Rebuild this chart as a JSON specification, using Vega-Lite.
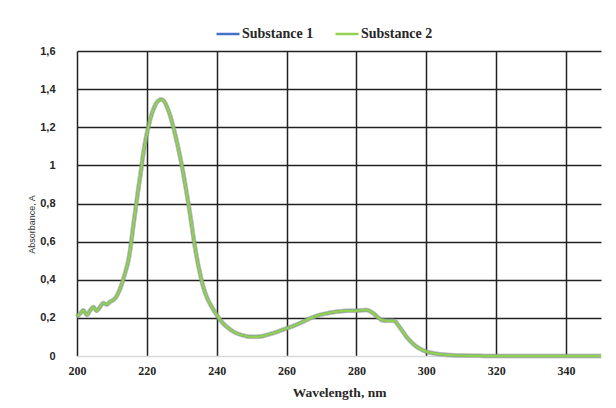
{
  "$schema": "https://vega.github.io/schema/vega-lite/v6.json",
  "width": 524,
  "height": 305,
  "autosize": {"type": "none"},
  "padding": {"left": 77, "top": 51, "right": 15, "bottom": 52},
  "background": "white",
  "config": {"view": {"stroke": null}},
  "data": {"values": [
    {"wl": 200, "Substance 1": 0.205, "Substance 2": 0.205}, {"wl": 201, "Substance 1": 0.225, "Substance 2": 0.225},
    {"wl": 201.8, "Substance 1": 0.24, "Substance 2": 0.24}, {"wl": 202.8, "Substance 1": 0.215, "Substance 2": 0.215},
    {"wl": 203.8, "Substance 1": 0.24, "Substance 2": 0.24}, {"wl": 204.7, "Substance 1": 0.257, "Substance 2": 0.257},
    {"wl": 205.6, "Substance 1": 0.236, "Substance 2": 0.236}, {"wl": 206.5, "Substance 1": 0.255, "Substance 2": 0.255},
    {"wl": 207.5, "Substance 1": 0.278, "Substance 2": 0.278}, {"wl": 208.5, "Substance 1": 0.27, "Substance 2": 0.27},
    {"wl": 209.5, "Substance 1": 0.285, "Substance 2": 0.285}, {"wl": 210.4, "Substance 1": 0.294, "Substance 2": 0.294},
    {"wl": 211.2, "Substance 1": 0.31, "Substance 2": 0.31}, {"wl": 211.8, "Substance 1": 0.33, "Substance 2": 0.33},
    {"wl": 212.5, "Substance 1": 0.36, "Substance 2": 0.36}, {"wl": 213.2, "Substance 1": 0.40, "Substance 2": 0.40},
    {"wl": 214, "Substance 1": 0.45, "Substance 2": 0.45}, {"wl": 214.7, "Substance 1": 0.50, "Substance 2": 0.50},
    {"wl": 215.4, "Substance 1": 0.58, "Substance 2": 0.58}, {"wl": 216.1, "Substance 1": 0.68, "Substance 2": 0.68},
    {"wl": 216.8, "Substance 1": 0.775, "Substance 2": 0.775}, {"wl": 217.5, "Substance 1": 0.87, "Substance 2": 0.87},
    {"wl": 218.3, "Substance 1": 0.97, "Substance 2": 0.97}, {"wl": 219.0, "Substance 1": 1.065, "Substance 2": 1.065},
    {"wl": 219.7, "Substance 1": 1.14, "Substance 2": 1.14}, {"wl": 220.4, "Substance 1": 1.20, "Substance 2": 1.20},
    {"wl": 221.1, "Substance 1": 1.25, "Substance 2": 1.25}, {"wl": 221.8, "Substance 1": 1.29, "Substance 2": 1.29},
    {"wl": 222.5, "Substance 1": 1.32, "Substance 2": 1.32}, {"wl": 223.3, "Substance 1": 1.34, "Substance 2": 1.34},
    {"wl": 224.2, "Substance 1": 1.345, "Substance 2": 1.345}, {"wl": 225.0, "Substance 1": 1.335, "Substance 2": 1.335},
    {"wl": 225.7, "Substance 1": 1.31, "Substance 2": 1.31}, {"wl": 226.6, "Substance 1": 1.265, "Substance 2": 1.265},
    {"wl": 227.6, "Substance 1": 1.20, "Substance 2": 1.20}, {"wl": 228.5, "Substance 1": 1.13, "Substance 2": 1.13},
    {"wl": 229.5, "Substance 1": 1.046, "Substance 2": 1.046}, {"wl": 230.5, "Substance 1": 0.95, "Substance 2": 0.95},
    {"wl": 231.4, "Substance 1": 0.854, "Substance 2": 0.854}, {"wl": 232.4, "Substance 1": 0.74, "Substance 2": 0.74},
    {"wl": 233.3, "Substance 1": 0.626, "Substance 2": 0.626}, {"wl": 234.2, "Substance 1": 0.525, "Substance 2": 0.525},
    {"wl": 235.2, "Substance 1": 0.434, "Substance 2": 0.434}, {"wl": 236.1, "Substance 1": 0.365, "Substance 2": 0.365},
    {"wl": 237.1, "Substance 1": 0.311, "Substance 2": 0.311}, {"wl": 238.5, "Substance 1": 0.26, "Substance 2": 0.26},
    {"wl": 240.0, "Substance 1": 0.215, "Substance 2": 0.215}, {"wl": 241.4, "Substance 1": 0.18, "Substance 2": 0.18},
    {"wl": 242.8, "Substance 1": 0.154, "Substance 2": 0.154}, {"wl": 244.2, "Substance 1": 0.135, "Substance 2": 0.135},
    {"wl": 245.7, "Substance 1": 0.119, "Substance 2": 0.119}, {"wl": 247.5, "Substance 1": 0.108, "Substance 2": 0.108},
    {"wl": 249.5, "Substance 1": 0.101, "Substance 2": 0.101}, {"wl": 251.5, "Substance 1": 0.101, "Substance 2": 0.101},
    {"wl": 253.3, "Substance 1": 0.105, "Substance 2": 0.105}, {"wl": 255.2, "Substance 1": 0.115, "Substance 2": 0.115},
    {"wl": 257.5, "Substance 1": 0.128, "Substance 2": 0.128}, {"wl": 260, "Substance 1": 0.145, "Substance 2": 0.145},
    {"wl": 262.5, "Substance 1": 0.162, "Substance 2": 0.162}, {"wl": 264.7, "Substance 1": 0.18, "Substance 2": 0.18},
    {"wl": 266.5, "Substance 1": 0.196, "Substance 2": 0.196}, {"wl": 268.6, "Substance 1": 0.21, "Substance 2": 0.21},
    {"wl": 270.5, "Substance 1": 0.22, "Substance 2": 0.22}, {"wl": 272.4, "Substance 1": 0.227, "Substance 2": 0.227},
    {"wl": 274.3, "Substance 1": 0.232, "Substance 2": 0.232}, {"wl": 276.2, "Substance 1": 0.236, "Substance 2": 0.236},
    {"wl": 278, "Substance 1": 0.237, "Substance 2": 0.237}, {"wl": 280, "Substance 1": 0.238, "Substance 2": 0.238},
    {"wl": 281.5, "Substance 1": 0.24, "Substance 2": 0.24}, {"wl": 282.9, "Substance 1": 0.241, "Substance 2": 0.241},
    {"wl": 283.9, "Substance 1": 0.235, "Substance 2": 0.235}, {"wl": 284.8, "Substance 1": 0.224, "Substance 2": 0.224},
    {"wl": 286, "Substance 1": 0.205, "Substance 2": 0.205}, {"wl": 287.2, "Substance 1": 0.189, "Substance 2": 0.189},
    {"wl": 288.8, "Substance 1": 0.185, "Substance 2": 0.185}, {"wl": 290.5, "Substance 1": 0.185, "Substance 2": 0.185},
    {"wl": 291.3, "Substance 1": 0.178, "Substance 2": 0.178}, {"wl": 291.9, "Substance 1": 0.163, "Substance 2": 0.163},
    {"wl": 293, "Substance 1": 0.135, "Substance 2": 0.135}, {"wl": 294.3, "Substance 1": 0.101, "Substance 2": 0.101},
    {"wl": 295.7, "Substance 1": 0.073, "Substance 2": 0.073}, {"wl": 297.2, "Substance 1": 0.049, "Substance 2": 0.049},
    {"wl": 298.6, "Substance 1": 0.034, "Substance 2": 0.034}, {"wl": 300, "Substance 1": 0.023, "Substance 2": 0.023},
    {"wl": 302, "Substance 1": 0.014, "Substance 2": 0.014}, {"wl": 303.9, "Substance 1": 0.009, "Substance 2": 0.009},
    {"wl": 306.7, "Substance 1": 0.005, "Substance 2": 0.005}, {"wl": 310, "Substance 1": 0.002, "Substance 2": 0.002},
    {"wl": 315, "Substance 1": 0.001, "Substance 2": 0.001}, {"wl": 320, "Substance 1": 0, "Substance 2": 0},
    {"wl": 330, "Substance 1": 0, "Substance 2": 0}, {"wl": 340, "Substance 1": 0, "Substance 2": 0},
    {"wl": 350, "Substance 1": 0, "Substance 2": 0}
  ]},
  "transform": [
    {"fold": ["Substance 1", "Substance 2"], "as": ["series", "value"]}
  ],
  "encoding": {
    "x": {
      "field": "wl", "type": "quantitative",
      "scale": {"domain": [200, 350], "nice": false, "zero": false},
      "axis": {
        "values": [200, 220, 240, 260, 280, 300, 320, 340],
        "title": "Wavelength, nm",
        "grid": true, "gridColor": "#222222", "gridWidth": 1.5,
        "ticks": false, "domain": true, "domainColor": "#d9d9d9", "domainWidth": 1,
        "labelFlush": false,
        "labelFont": "Liberation Serif", "labelFontWeight": "bold", "labelFontSize": 12, "labelColor": "#262626",
        "labelPadding": 9,
        "titleFont": "Liberation Serif", "titleFontWeight": "bold", "titleFontSize": 13.5, "titleColor": "#262626",
        "titlePadding": 9
      }
    },
    "y": {
      "field": "value", "type": "quantitative",
      "scale": {"domain": [0, 1.6], "nice": false},
      "axis": {
        "values": [0, 0.2, 0.4, 0.6, 0.8, 1, 1.2, 1.4, 1.6],
        "labelExpr": "replace(format(datum.value, '.1~f'), '.', ',')",
        "title": "Absorbance, A",
        "grid": true,
        "gridColor": {"condition": {"test": "datum.value === 0", "value": "#d9d9d9"}, "value": "#222222"},
        "gridWidth": 1.5,
        "ticks": false, "domain": false,
        "labelFont": "Liberation Sans", "labelFontWeight": "bold", "labelFontSize": 11, "labelColor": "#262626",
        "labelPadding": 22,
        "titleFont": "Liberation Sans", "titleFontWeight": "normal", "titleFontSize": 9, "titleColor": "#333333",
        "titleAngle": -90, "titleX": -46, "titleY": 173, "titleAlign": "center", "titleBaseline": "middle"
      }
    }
  },
  "layer": [
    {
      "mark": {"type": "line", "interpolate": "monotone", "strokeWidth": 4.5, "color": "#9a9a9a", "opacity": 0.45},
      "encoding": {"detail": {"field": "series"}}
    },
    {
      "mark": {"type": "line", "interpolate": "monotone", "strokeWidth": 2.5},
      "encoding": {
        "color": {
          "field": "series", "type": "nominal",
          "scale": {"domain": ["Substance 1", "Substance 2"], "range": ["#4472C4", "#92D050"]},
          "legend": {
            "title": null, "orient": "none", "direction": "horizontal",
            "legendX": 138, "legendY": -30,
            "symbolType": "stroke", "symbolSize": 529, "symbolStrokeWidth": 2.5,
            "labelFont": "Liberation Serif", "labelFontWeight": "bold", "labelFontSize": 14, "labelColor": "#262626",
            "labelOffset": 1, "columnPadding": 16
          }
        }
      }
    }
  ]
}
